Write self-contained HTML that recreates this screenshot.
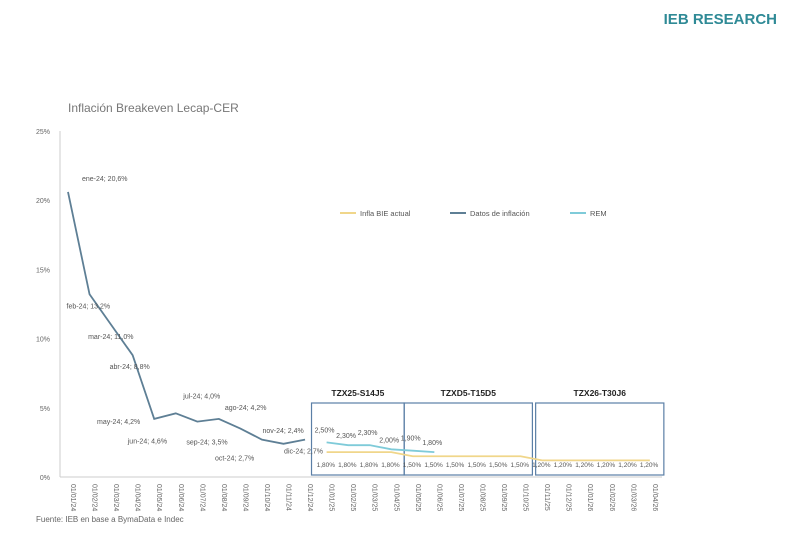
<!DOCTYPE html>
<html><head><meta charset="utf-8"><style>
body{margin:0;background:#fff;}
svg text{font-family:"Liberation Sans",sans-serif;}
</style></head><body>
<svg id="chart" width="800" height="536" xmlns="http://www.w3.org/2000/svg">
<text x="777" y="24" text-anchor="end" font-size="15" font-weight="bold" fill="#2f8a96">IEB RESEARCH</text>
<text x="68" y="112" font-size="12" fill="#777">Inflación Breakeven Lecap-CER</text>
<text x="36" y="522" font-size="8" fill="#666">Fuente: IEB en base a BymaData e Indec</text>
<g id="axes"></g><g id="marks"></g>
</svg>
<script>
const months=["01/01/24","01/02/24","01/03/24","01/04/24","01/05/24","01/06/24","01/07/24","01/08/24","01/09/24","01/10/24","01/11/24","01/12/24","01/01/25","01/02/25","01/03/25","01/04/25","01/05/25","01/06/25","01/07/25","01/08/25","01/09/25","01/10/25","01/11/25","01/12/25","01/01/26","01/02/26","01/03/26","01/04/26"];
const inflNames=["ene-24","feb-24","mar-24","abr-24","may-24","jun-24","jul-24","ago-24","sep-24","oct-24","nov-24","dic-24"];
const inflValues=[20.6,13.2,11.0,8.8,4.2,4.6,4.0,4.2,3.5,2.7,2.4,2.7];
const remValues=[2.5,2.3,2.3,2.0,1.9,1.8];
const bieValues=[1.8,1.8,1.8,1.8,1.5,1.5,1.5,1.5,1.5,1.5,1.2,1.2,1.2,1.2,1.2,1.2];
const yTicks=[0,5,10,15,20,25];
const boxes=[{name:"TZX25-S14J5",from:11.3,to:15.6},{name:"TZXD5-T15D5",from:15.6,to:21.55},{name:"TZX26-T30J6",from:21.7,to:27.65}];
const labelOff=[[14,-14,"start"],[-23,11,"start"],[-23,11,"start"],[-23,11,"start"],[-14,2,"end"],[-48,27,"start"],[-14,-26,"start"],[6,-12,"start"],[-54,13,"start"],[-47,18,"start"],[-21,-14,"start"],[-21,11,"start"]];
const NS="http://www.w3.org/2000/svg";
const X=i=>68+21.55*i, Y=v=>477-v*13.84;
const ax=document.getElementById('axes'), mk=document.getElementById('marks');
function el(t,a,p,txt){const e=document.createElementNS(NS,t);for(const k in a)e.setAttribute(k,a[k]);if(txt!==undefined)e.textContent=txt;p.appendChild(e);return e;}
let e=el('line',{x1:60,y1:131,x2:60,y2:477,stroke:'#ccc'},ax);

e=el('line',{x1:60,y1:477,x2:662,y2:477,stroke:'#ccc'},ax);

yTicks.forEach(t=>{const e=el('text',{x:50,y:Y(t)+3,'text-anchor':'end','font-size':7,fill:'#666'},ax,t+'%');
});
months.forEach((m,i)=>{const e=el('text',{x:0,y:0,'font-size':7,fill:'#666',transform:`translate(${X(i)+3},484) rotate(90)`},ax,m);
});
boxes.forEach(b=>{const x1=X(b.from),x2=X(b.to);
let e=el('rect',{x:x1,y:403,width:x2-x1,height:72,fill:'none',stroke:'#5b7fa6','stroke-width':1.2},mk);

e=el('text',{x:(x1+x2)/2,y:396,'text-anchor':'middle','font-size':8.5,'font-weight':'bold',fill:'#222'},mk,b.name);
});
function line(vals,off,color,name){const e=el('polyline',{points:vals.map((v,i)=>X(i+off)+','+Y(v)).join(' '),fill:'none',stroke:color,'stroke-width':1.8},mk);
}
line(bieValues,12,'#f0d68a','bie-line');
line(remValues,12,'#7fcbd9','rem-line');
line(inflValues,0,'#5e7f95','inflation-line');
inflValues.forEach((v,i)=>{const o=labelOff[i];const e=el('text',{x:X(i)+o[0],y:Y(v)+o[1]+3,'text-anchor':o[2],'font-size':7,fill:'#555'},mk,inflNames[i]+'; '+String(v.toFixed(1)).replace('.',',')+'%');
});
remValues.forEach((v,i)=>{const e=el('text',{x:X(i+12)-12,y:Y(v)-10+(i%2?3:0),'font-size':7,fill:'#555'},mk,v.toFixed(2).replace('.',',')+'%');
});
bieValues.forEach((v,i)=>{const e=el('text',{x:X(i+12)-10,y:467,'font-size':6.5,fill:'#555'},mk,v.toFixed(2).replace('.',',')+'%');
});
[["Infla BIE actual","#f0d68a",340],["Datos de inflación","#5e7f95",450],["REM","#7fcbd9",570]].forEach(l=>{
let e=el('line',{x1:l[2],y1:213,x2:l[2]+16,y2:213,stroke:l[1],'stroke-width':2},mk);

e=el('text',{x:l[2]+20,y:216,'font-size':7.5,fill:'#555'},mk,l[0]);
});
</script>
</body></html>
